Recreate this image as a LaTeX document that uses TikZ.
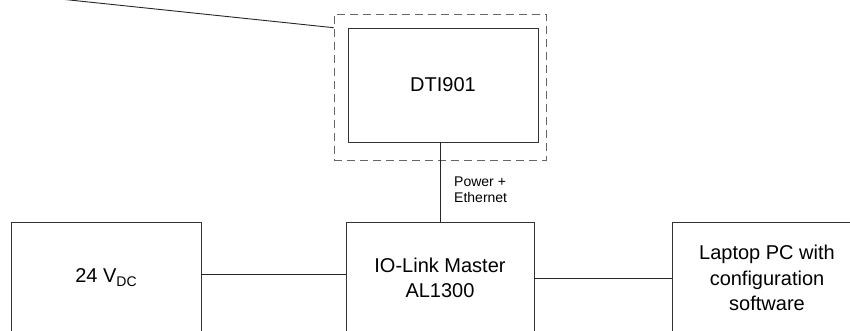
\documentclass[tikz,border=0pt]{standalone}
\usepackage{fontspec}
\setmainfont{Liberation Sans}
\begin{document}
\begin{tikzpicture}[x=1pt,y=-1pt,
  box/.style={draw=black!80, line width=0.9pt, inner sep=0pt, align=center,
    font=\fontsize{20}{25.5}\selectfont},
  wire/.style={draw=black!85, line width=0.9pt},
  dashbox/.style={draw=black!60, line width=0.8pt, dash pattern=on 8pt off 5pt, inner sep=0pt},
  small/.style={font=\fontsize{14}{16}\selectfont, align=left, inner sep=0pt}]
\useasboundingbox (0,0) rectangle (850,331);
\clip (0,0) rectangle (850,331);
\node[dashbox, minimum width=212pt, minimum height=146pt] (frame) at (440,87) {};
\node[box, minimum width=190pt, minimum height=114pt] (dti) at (443,85) {DTI901};
\node[box, minimum width=190pt, minimum height=112pt] (psu) at (106,278) {24 V{\fontsize{14}{14}\selectfont\raisebox{-4pt}{DC}}};
\node[box, minimum width=188pt, minimum height=112pt] (io) at (440,278) {IO-Link Master\\AL1300};
\node[box, minimum width=190pt, minimum height=112pt] (pc) at (767,278) {Laptop PC with\\configuration\\software};
\node[small, anchor=west] (lbl) at (454,190) {Power +\\Ethernet};
\coordinate (lead) at (60,-1);
\draw[wire] (lead) -- (frame.west |- 0,27.7);
\draw[wire] (io.north) -- (io.north |- dti.south);
\draw[wire] ([yshift=4pt]psu.east) -- ([yshift=4pt]psu.east -| io.west);
\draw[wire] (io.east) -- (io.east -| pc.west);
\end{tikzpicture}
\end{document}
